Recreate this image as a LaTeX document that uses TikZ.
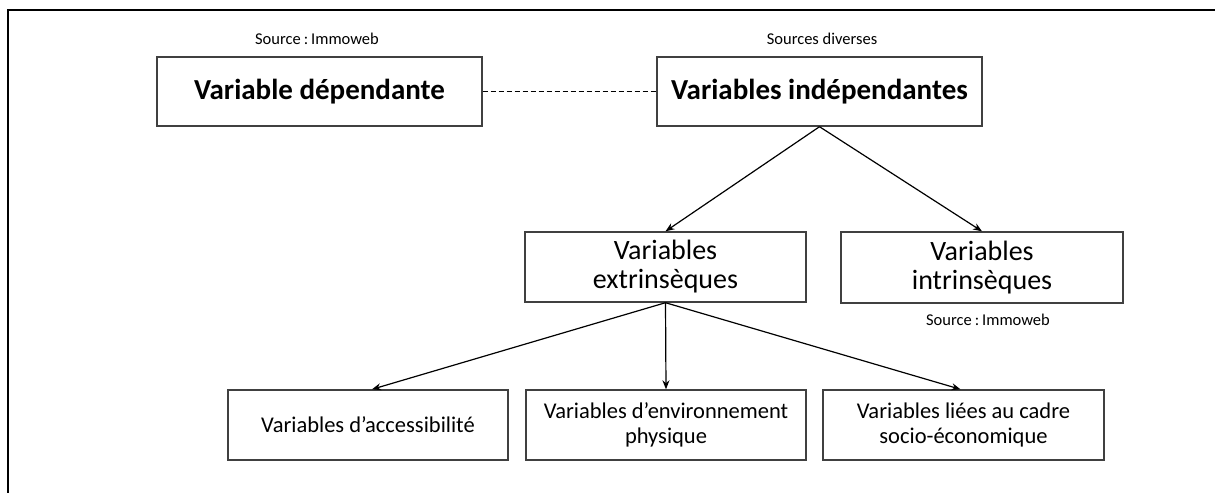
\documentclass[tikz,border=0pt]{standalone}
\usepackage{fontspec}
\setmainfont{Carlito}
\usetikzlibrary{arrows.meta}
\definecolor{boxline}{HTML}{404040}
\begin{document}
\begin{tikzpicture}[x=1pt,y=-1pt,
  boxnode/.style={draw=boxline,line width=1.4pt,rectangle,inner sep=0pt,align=center},
  bigbold/.style={font=\fontsize{29}{31}\selectfont\bfseries},
  midtext/.style={font=\fontsize{28}{29}\selectfont},
  smalltext/.style={font=\fontsize{22.5}{25.5}\selectfont},
  srctext/.style={font=\fontsize{16.5}{18}\selectfont,inner sep=0pt},
  arr/.style={line width=1.2pt,-{Stealth[length=9pt,width=7pt]}}]
\useasboundingbox (0,0) rectangle (1215,493);
\fill[white] (0,0) rectangle (1215,493);
\coordinate (fa) at (1215,10);
\coordinate (fb) at (8,10);
\coordinate (fc) at (8,493);
\draw[line width=2.6pt] (fa) -- (fb) -- (fc);

\node[boxnode,bigbold,minimum width=325pt,minimum height=69pt] (dep) at (319.5,91.5) {Variable dépendante};
\node[boxnode,bigbold,minimum width=325pt,minimum height=69pt] (ind) at (819.5,91.5) {Variables indépendantes};
\node[srctext] (s1) at (317,39) {Source\hspace{0.18em}:\hspace{0.18em}Immoweb};
\node[srctext] (s2) at (822,39) {Sources diverses};

\node[boxnode,midtext,minimum width=281pt,minimum height=70pt] (ext) at (665.5,267) {Variables\\extrinsèques};
\node[boxnode,midtext,minimum width=282pt,minimum height=71pt] (intr) at (982,267.5) {Variables\\intrinsèques};
\node[srctext] (s3) at (988,320) {Source\hspace{0.18em}:\hspace{0.18em}Immoweb};

\node[boxnode,smalltext,minimum width=280pt,minimum height=70pt] (acc) at (368,425) {Variables d’accessibilité};
\node[boxnode,smalltext,minimum width=280pt,minimum height=70pt] (env) at (666,425) {Variables d’environnement\\physique};
\node[boxnode,smalltext,minimum width=281pt,minimum height=70pt] (soc) at (963.5,425) {Variables liées au cadre\\socio-économique};

\draw[line width=1.1pt,dashed,dash pattern=on 5pt off 3pt] (dep.east) -- (ind.west);
\draw[arr] (ind.south) -- (ext.north);
\draw[arr] (ind.south) -- (intr.north);
\draw[arr] (ext.south) -- ([xshift=4pt]acc.north);
\draw[arr] (ext.south) -- (env.north);
\draw[arr] (ext.south) -- ([xshift=-3pt]soc.north);
\end{tikzpicture}
\end{document}
